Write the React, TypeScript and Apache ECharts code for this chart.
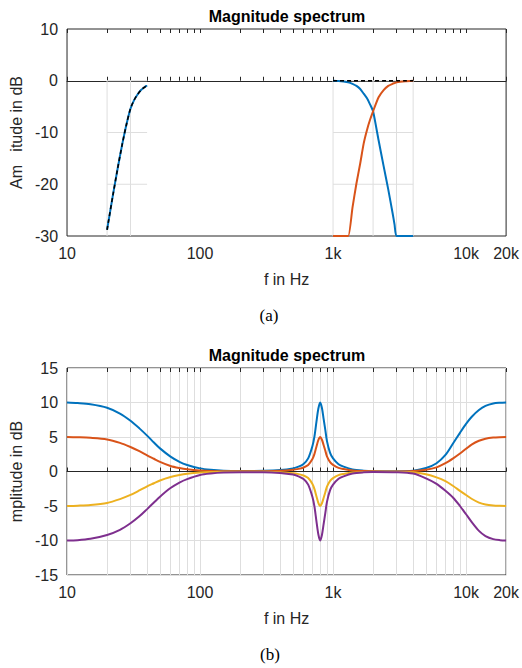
import React, { useEffect, useRef } from "react";
import * as echarts from "echarts";

// ---------- Panel (a) data ----------
const aLowFreq = [20, 22, 24, 26, 28, 30, 32, 34, 36, 38, 40];
const aLowBlue = [-28.8, -22.5, -17.0, -12.3, -8.4, -5.4, -3.7, -2.6, -1.8, -1.3, -0.9];
const aLowSum = [-28.8, -22.5, -17.0, -12.3, -8.4, -5.4, -3.7, -2.6, -1.8, -1.3, -0.9];

const aHighFreq = [1000, 1100, 1200, 1300, 1400, 1500, 1600, 1700, 1800, 1900, 2000, 2200, 2400, 2600, 2800, 2900, 3000, 3500, 4000];
const aHighBlue = [0, -0.05, -0.15, -0.3, -0.6, -1.0, -1.6, -2.5, -3.4, -4.6, -5.9, -11.5, -16.5, -21.0, -25.5, -27.8, -30, -30, -30];
const aHighRed = [-30, -30, -30, -30, -24.5, -19.8, -16.0, -12.1, -9.5, -7.5, -5.9, -3.2, -1.8, -1.0, -0.6, -0.45, -0.3, -0.1, 0];
const aHighSum = [0, 0, 0, 0, 0, 0, 0, 0, 0, 0, 0, 0, 0, 0, 0, 0, 0, 0, 0];

// partial grid boxes in panel (a)
const aGridBoxes = [
  { x: [20, 30], xMin: 20, xMax: 40 },
  { x: [1000, 2000, 3000, 4000], xMin: 1000, xMax: 4000 },
];
const aGridY = [-20, -10, 0];
const aGridYMin = -30;

// ---------- Panel (b) data ----------
const bFreq = [10, 12, 15, 20, 25, 30, 35, 40, 45, 50, 60, 70, 80, 100, 120, 150, 200, 300, 400, 500, 550, 600, 650, 700, 725, 750, 775, 800, 825, 850, 875, 900, 950, 1000, 1100, 1200, 1400, 1700, 2000, 3000, 4000, 5000, 6000, 7000, 8000, 9000, 10000, 11000, 12500, 14000, 16000, 18000, 20000];
const bBlue = [10, 9.92, 9.75, 9.25, 8.4, 7.35, 6.25, 5.2, 4.2, 3.35, 2.15, 1.4, 0.95, 0.45, 0.25, 0.12, 0.08, 0.1, 0.2, 0.45, 0.7, 1.1, 1.9, 3.7, 5.1, 7.2, 9.1, 10.0, 9.2, 7.6, 6.0, 4.4, 2.7, 1.9, 1.05, 0.7, 0.3, 0.12, 0.05, 0.02, 0.12, 0.5, 1.2, 2.4, 4.1, 5.6, 6.9, 7.9, 8.9, 9.5, 9.85, 9.96, 10];
const bRed = [5, 4.96, 4.88, 4.65, 4.15, 3.55, 2.95, 2.35, 1.85, 1.4, 0.8, 0.5, 0.32, 0.14, 0.07, 0.04, 0.03, 0.05, 0.1, 0.25, 0.38, 0.58, 0.95, 1.8, 2.55, 3.6, 4.55, 5.0, 4.6, 3.8, 3.0, 2.2, 1.35, 0.95, 0.52, 0.35, 0.15, 0.06, 0.03, 0.01, 0.06, 0.25, 0.6, 1.2, 1.9, 2.6, 3.3, 3.9, 4.45, 4.75, 4.92, 4.98, 5];
const bYellow = [-5, -4.95, -4.85, -4.55, -4.0, -3.4, -2.75, -2.15, -1.7, -1.3, -0.8, -0.5, -0.32, -0.14, -0.07, -0.04, -0.03, -0.05, -0.1, -0.25, -0.38, -0.58, -0.95, -1.8, -2.55, -3.6, -4.55, -5.0, -4.6, -3.8, -3.0, -2.2, -1.35, -0.95, -0.52, -0.35, -0.15, -0.06, -0.03, -0.02, -0.1, -0.4, -0.85, -1.4, -2.1, -2.8, -3.4, -3.95, -4.5, -4.78, -4.93, -4.98, -5];
const bPurple = [-10, -9.95, -9.75, -9.2, -8.45, -7.5, -6.5, -5.45, -4.5, -3.65, -2.4, -1.6, -1.1, -0.5, -0.28, -0.14, -0.1, -0.1, -0.2, -0.45, -0.7, -1.1, -1.9, -3.7, -5.1, -7.2, -9.1, -10.0, -9.2, -7.6, -6.0, -4.4, -2.7, -1.9, -1.05, -0.7, -0.3, -0.12, -0.06, -0.1, -0.3, -1.0, -1.8, -2.8, -3.8, -5.0, -6.2, -7.3, -8.6, -9.35, -9.8, -9.95, -10];

// ---------- Axis ticks ----------
const xTickValues = [10, 20, 30, 40, 50, 60, 70, 80, 90, 100, 200, 300, 400, 500, 600, 700, 800, 900, 1000, 2000, 3000, 4000, 5000, 6000, 7000, 8000, 9000, 10000, 20000];
const xLabelValues = [10, 100, 1000, 10000, 20000];

const FONT = "Liberation Sans, Arial, Helvetica, sans-serif";
const AXIS_COLOR = "#262626";
const GRID_COLOR = "#dedede";
const C_BLUE = "#0072BD";
const C_RED = "#D95319";
const C_YELLOW = "#EDB120";
const C_PURPLE = "#7E2F8E";

const fmtHz = (v: number) => (v >= 1000 ? `${Math.round(v / 1000)}k` : `${v}`);
const zip = (xs: number[], ys: number[]) => xs.map((x, i) => [x, ys[i]]);

export default function App() {
  const ref = useRef<HTMLDivElement>(null);

  useEffect(() => {
    if (!ref.current) return;
    const chart = echarts.init(ref.current, undefined, { renderer: "svg" });

    const grids = [
      { left: 66, width: 442, top: 29, height: 207 },
      { left: 66, width: 442, top: 368, height: 207 },
    ].map((g) => ({ ...g, show: true, borderColor: AXIS_COLOR, borderWidth: 1, backgroundColor: "#fff" }));

    const bottomX = (gi: number, showSplit: boolean) => ({
      type: "log",
      logBase: 10,
      gridIndex: gi,
      min: 10,
      max: 20000,
      position: "bottom",
      name: "f in Hz",
      nameLocation: "middle",
      nameGap: 35,
      nameTextStyle: { fontFamily: FONT, fontSize: 16, color: AXIS_COLOR },
      axisLine: { show: true, lineStyle: { color: AXIS_COLOR, width: 1 } },
      axisTick: { show: true, inside: true, length: 4, customValues: xTickValues, lineStyle: { color: AXIS_COLOR } },
      minorTick: { show: false },
      axisLabel: {
        show: true,
        customValues: xLabelValues,
        formatter: (v: number) => fmtHz(v),
        fontFamily: FONT,
        fontSize: 16,
        color: AXIS_COLOR,
        margin: 9,
      },
      splitLine: { show: showSplit, lineStyle: { color: GRID_COLOR, width: 1 } },
    });
    const topX = (gi: number) => ({
      type: "log",
      logBase: 10,
      gridIndex: gi,
      min: 10,
      max: 20000,
      position: "top",
      axisLine: { show: false },
      axisTick: { show: true, inside: true, length: 4, customValues: xTickValues, lineStyle: { color: AXIS_COLOR } },
      axisLabel: { show: false },
      splitLine: { show: false },
    });

    const yAx = (gi: number, min: number, max: number, interval: number, name: string, showSplit: boolean) => ({
      type: "value",
      gridIndex: gi,
      min,
      max,
      interval,
      name,
      nameLocation: "middle",
      nameGap: 40,
      nameTextStyle: { fontFamily: FONT, fontSize: 16, color: AXIS_COLOR },
      axisLine: { show: false },
      axisTick: { show: false },
      axisLabel: { fontFamily: FONT, fontSize: 16, color: AXIS_COLOR, margin: 9 },
      splitLine: { show: showSplit, lineStyle: { color: GRID_COLOR, width: 1 } },
    });

    const seg = (data: number[][]) => ({
      type: "line",
      xAxisIndex: 0,
      yAxisIndex: 0,
      data,
      symbol: "none",
      silent: true,
      z: 1,
      lineStyle: { color: GRID_COLOR, width: 1 },
    });

    const gridSeries: any[] = [];
    aGridBoxes.forEach((b) => {
      b.x.forEach((x) => gridSeries.push(seg([[x, aGridYMin], [x, 0]])));
      aGridY.forEach((y) => gridSeries.push(seg([[b.xMin, y], [b.xMax, y]])));
    });

    const curve = (xi: number, yi: number, data: number[][], color: string, width: number, dashed = false, z = 3, smooth = 0.3) => ({
      type: "line",
      xAxisIndex: xi,
      yAxisIndex: yi,
      data,
      symbol: "none",
      smooth,
      z,
      silent: true,
      lineStyle: { color, width, type: dashed ? [4, 3] : "solid" },
    });

    const option: any = {
      animation: false,
      backgroundColor: "#fff",
      title: [
        { text: "Magnitude spectrum", left: 287, top: 8, textAlign: "center", padding: 0, textStyle: { fontFamily: FONT, fontSize: 16, fontWeight: "bold", color: "#000" } },
        { text: "Magnitude spectrum", left: 287, top: 347, textAlign: "center", padding: 0, textStyle: { fontFamily: FONT, fontSize: 16, fontWeight: "bold", color: "#000" } },
        { text: "(a)", left: 269, top: 307, textAlign: "center", padding: 0, textStyle: { fontFamily: "Liberation Serif, Times New Roman, serif", fontSize: 17, fontWeight: "normal", color: "#000" } },
        { text: "(b)", left: 270, top: 646, textAlign: "center", padding: 0, textStyle: { fontFamily: "Liberation Serif, Times New Roman, serif", fontSize: 17, fontWeight: "normal", color: "#000" } },
      ],
      grid: grids,
      xAxis: [bottomX(0, false), topX(0), bottomX(1, true), topX(1)],
      yAxis: [
        yAx(0, -30, 10, 10, "Am\u00a0\u00a0\u00a0itude in dB", false),
        yAx(1, -15, 15, 5, "mplitude in dB", true),
      ],
      series: [
        ...gridSeries,
        curve(0, 0, zip(aLowFreq, aLowBlue), C_BLUE, 2),
        curve(0, 0, zip(aLowFreq, aLowSum), "#000", 1.6, true, 5),
        curve(0, 0, zip(aHighFreq, aHighBlue), C_BLUE, 2, false, 3, 0.2),
        curve(0, 0, zip(aHighFreq, aHighRed), C_RED, 2, false, 4, 0.2),
        curve(0, 0, zip(aHighFreq, aHighSum), "#000", 1.6, true, 5),
        curve(2, 1, zip(bFreq, bBlue), C_BLUE, 2),
        curve(2, 1, zip(bFreq, bRed), C_RED, 2),
        curve(2, 1, zip(bFreq, bYellow), C_YELLOW, 2),
        curve(2, 1, zip(bFreq, bPurple), C_PURPLE, 2),
      ],
    };

    chart.setOption(option);
    return () => chart.dispose();
  }, []);

  return (
    <div
      ref={ref}
      style={{ position: "fixed", left: 0, top: 0, width: 522, height: 668, background: "#fff" }}
    />
  );
}
